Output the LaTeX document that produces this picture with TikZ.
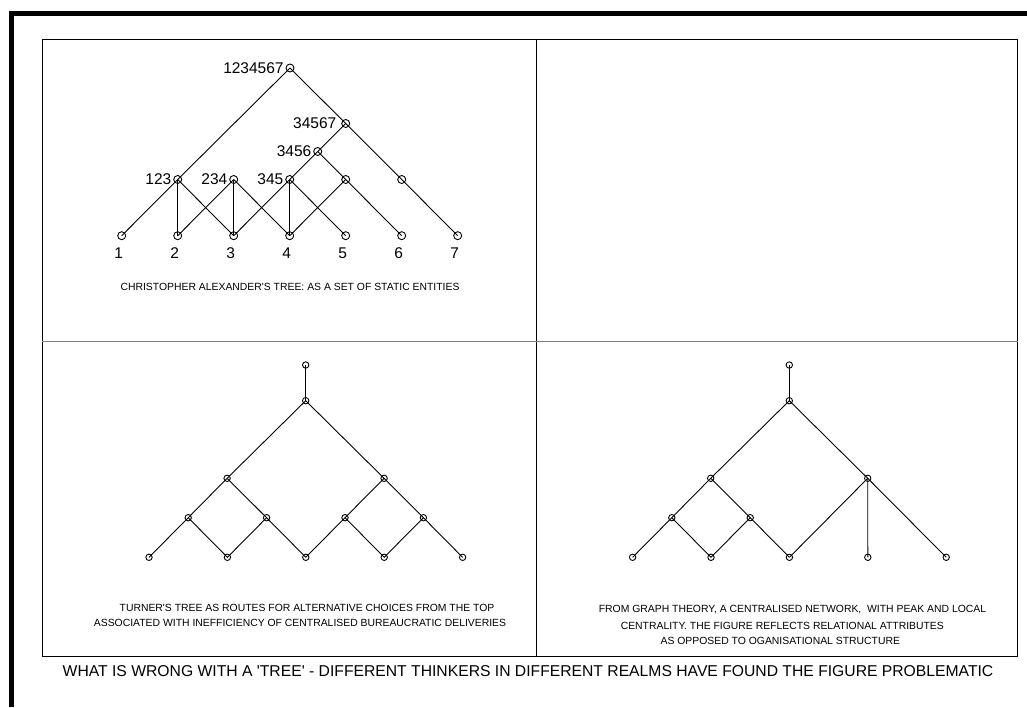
\documentclass[tikz,border=0pt]{standalone}
\usepackage{fontspec}
\setmainfont{Liberation Sans}[Ligatures=TeXOff]
\usetikzlibrary{positioning}
\tikzset{vtx/.style={circle,draw,inner sep=0pt,minimum size=8pt},
  vtxs/.style={circle,draw,inner sep=0pt,minimum size=6.4pt},
  lbl/.style={font=\fontsize{15.5}{18}\selectfont,inner sep=1pt},
  captxt/.style={font=\fontsize{10.4}{12}\selectfont,inner sep=0pt},
  ttl/.style={font=\fontsize{15.7}{18}\selectfont,inner sep=0pt}}

\begin{document}
\begin{tikzpicture}[x=1pt,y=-1pt,line width=0.9pt]
\useasboundingbox (0,0) rectangle (1027,707);
% frames
\draw[line width=5pt] (11.5,707) -- (11.5,13.5) -- (1027,13.5);
\draw[line width=1pt] (42,39.5) rectangle (1017.7,656.5);
\draw[line width=1pt] (536.3,39.5) -- (536.3,656.5);
\draw[line width=1pt,gray] (42,341) -- (1017.7,341);
% alexander
\node[vtx] (t) at (290,68) {};
\node[vtx] (c) at (345.7,123.5) {};
\node[vtx] (d) at (317.7,151.5) {};
\foreach \i in {2,...,6}
  \node[vtx] (m\i) at ({177.7+56*(\i-2)},179.5) {};
\foreach \i in {1,...,7} {
  \node[vtx] (b\i) at ({121.7+56*(\i-1)},235.7) {};
  \node[lbl] (n\i) at ({118.7+56*(\i-1)},253) {\i};
}
\node[lbl,left=0.5pt of t] (lt) {1234567};
\node[lbl,left=3.5pt of c] (lc) {34567};
\node[lbl,left=0.5pt of d] (ld) {3456};
\node[lbl,left=0.5pt of m2] (l2) {123};
\node[lbl,left=0.5pt of m3] (l3) {234};
\node[lbl,left=0.5pt of m4] (l4) {345};
\draw (t.center) -- (m2.center) -- (b1.center);
\draw (t.center) -- (c.center) -- (m6.center) -- (b7.center);
\draw (c.center) -- (d.center) -- (m4.center) -- (b3.center);
\draw (d.center) -- (m5.center) -- (b6.center);
\foreach \a/\b in {m2/b2,m2/b3,m3/b2,m3/b3,m3/b4,m4/b4,m4/b5,m5/b4}
  \draw (\a.center) -- (\b.center);
\node[captxt] (ca) at (290,286.7) {CHRISTOPHER ALEXANDER'S TREE: AS A SET OF STATIC ENTITIES};
% turner
\node[vtxs] (r) at (305.7,365) {};
\node[vtxs] (s) at (305.7,400.7) {};
\node[vtxs] (p1) at (227.1,478.3) {};
\node[vtxs] (p2) at (384.1,478.3) {};
\foreach \i in {1,...,4}
  \node[vtxs] (q\i) at ({188.2+78.4*(\i-1)},517.7) {};
\foreach \i in {1,...,5}
  \node[vtxs] (e\i) at ({149+78.4*(\i-1)},557.3) {};
\draw (r.center) -- (s.center);
\draw (s.center) -- (p1.center) -- (q1.center) -- (e1.center);
\draw (p1.center) -- (q2.center) -- (e3.center);
\draw (q1.center) -- (e2.center) -- (q2.center);
\draw (s.center) -- (p2.center) -- (q3.center) -- (e3.center);
\draw (p2.center) -- (q4.center) -- (e5.center);
\draw (q3.center) -- (e4.center) -- (q4.center);
\node[captxt] (ct1) at (307,608) {TURNER'S TREE AS ROUTES FOR ALTERNATIVE CHOICES FROM THE TOP};
\node[captxt] (ct2) at (300,623.3) {ASSOCIATED WITH INEFFICIENCY OF CENTRALISED BUREAUCRATIC DELIVERIES};
% graph theory
\begin{scope}[xshift=483.6pt]
\node[vtxs] (gr) at (305.7,365) {};
\node[vtxs] (gs) at (305.7,400.7) {};
\node[vtxs] (gp1) at (227.1,478.3) {};
\node[vtxs] (gp2) at (384.1,478.3) {};
\node[vtxs] (gq1) at (188.2,517.7) {};
\node[vtxs] (gq2) at (266.6,517.7) {};
\foreach \i in {1,...,5}
  \node[vtxs] (ge\i) at ({149+78.4*(\i-1)},557.3) {};
\draw (gr.center) -- (gs.center);
\draw (gs.center) -- (gp1.center) -- (gq1.center) -- (ge1.center);
\draw (gp1.center) -- (gq2.center) -- (ge3.center);
\draw (gq1.center) -- (ge2.center) -- (gq2.center);
\draw (gs.center) -- (gp2.center) -- (ge3.center);
\draw (gp2.center) -- (ge4.center);
\draw (gp2.center) -- (ge5.center);
\end{scope}
\node[captxt] (cg1) at (792.5,610) {FROM GRAPH THEORY, A CENTRALISED NETWORK,\ \ WITH PEAK AND LOCAL};
\node[captxt] (cg2) at (782.3,625.7) {CENTRALITY. THE FIGURE REFLECTS RELATIONAL ATTRIBUTES};
\node[captxt] (cg3) at (780.3,641) {AS OPPOSED TO OGANISATIONAL STRUCTURE};
% title
\node[ttl] (title) at (528,671) {WHAT IS WRONG WITH A 'TREE' - DIFFERENT THINKERS IN DIFFERENT REALMS HAVE FOUND THE FIGURE PROBLEMATIC};
\end{tikzpicture}
\end{document}
